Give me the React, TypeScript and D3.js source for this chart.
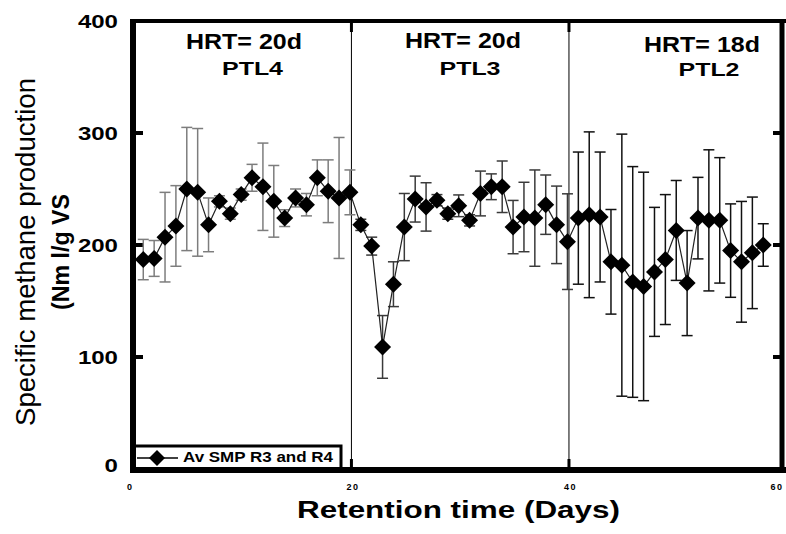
import React from 'react';
import * as d3 from 'd3';

// Retention time (days) of each measurement
const days = [
  1, 2, 3, 4, 5, 6, 7, 8, 9, 10, 11, 12, 13, 14, 15, 16, 17, 18, 19, 20,
  21, 22, 23, 24, 25, 26, 27, 28, 29, 30, 31, 32, 33, 34, 35, 36, 37, 38, 39, 40,
  41, 42, 43, 44, 45, 46, 47, 48, 49, 50, 51, 52, 53, 54, 55, 56, 57, 58,
];
// Av SMP R3 and R4 (Nm l/g VS)
const smp = [
  187, 188, 207, 217, 250, 247, 218, 239, 228, 245, 260, 252, 239, 224, 242, 236, 260, 248, 242, 247,
  218, 199, 109, 165, 216, 241, 234, 240, 228, 235, 222, 246, 252, 252, 216, 225, 224, 236, 218, 203,
  224, 227, 225, 185, 182, 167, 163, 176, 187, 213, 166, 224, 222, 222, 195, 185, 193, 200,
];
const smpErr = [
  18, 16, 40, 36, 55, 57, 24, 5, 5, 5, 12, 39, 32, 7.5, 8, 10, 16, 28, 54, 20,
  5, 8, 28, 20, 30, 20.5, 21.6, 5, 5, 9.7, 5, 20, 11.5, 23, 23.8, 31, 43, 26.5, 34.6, 42.7,
  59, 74, 58, 46.7, 117, 103, 102, 57.6, 58, 44.6, 46.9, 36.4, 63, 56, 41.7, 53.9, 49.8, 19,
];
const xTicks = [0, 20, 40, 60];
const yTicks = [0, 100, 200, 300, 400];
const phaseBounds = [20, 40];
const hrtLabels = ['HRT= 20d', 'HRT= 20d', 'HRT= 18d'];
const ptlLabels = ['PTL4', 'PTL3', 'PTL2'];
const legendLabel = 'Av SMP R3 and R4';
const xTitle = 'Retention time (Days)';
const yTitle1 = 'Specific methane production';
const yTitle2 = '(Nm l/g VS';

const W = 786;
const H = 534;
const FONT = '"Liberation Sans", Arial, Helvetica, sans-serif';

export default function App() {
  const x = d3.scaleLinear().domain([0, 60]).range([132.4, 785]);
  const y = d3.scaleLinear().domain([0, 400]).range([469, 21]);

  const line = d3
    .line<number>()
    .x((_, i) => x(days[i]))
    .y((v) => y(v));

  const barColor = (d: number) => (d <= 20 ? '#7d7d7d' : d <= 40 ? '#3a3a3a' : '#111');

  const leftX = 133;
  const rightX = 782;
  const topY = 21;
  const botY = 470;

  // label layout (pixels)
  const hrtPos = [
    { hx: 244, hy: 49, px: 252.5, py: 75 },
    { hx: 463, hy: 48, px: 470, py: 75 },
    { hx: 702, hy: 52, px: 709, py: 76 },
  ];

  const xLabelX = (t: number) => (t === 0 ? x(t) - 3 : t === 60 ? 777 : x(t) + 3);

  return (
    <svg
      width={W}
      height={H}
      viewBox={`0 0 ${W} ${H}`}
      style={{ position: 'absolute', left: 0, top: 0, background: '#fff' }}
    >
      <rect x={0} y={0} width={W} height={H} fill="#fff" />

      {/* phase separators */}
      {phaseBounds.map((b) => (
        <g key={'pb' + b}>
          <line x1={x(b) + 1.5} x2={x(b) + 1.5} y1={topY} y2={botY} stroke="#000" strokeWidth={1} />
          <line x1={x(b) + 1.5} x2={x(b) + 1.5} y1={topY} y2={topY + 11} stroke="#000" strokeWidth={3} />
          <line x1={x(b) + 1.5} x2={x(b) + 1.5} y1={botY - 11} y2={botY} stroke="#000" strokeWidth={3} />
        </g>
      ))}

      {/* y ticks inside frame */}
      {yTicks.slice(1, 4).map((t) => (
        <g key={'yt' + t}>
          <line x1={leftX} x2={leftX + 10} y1={y(t)} y2={y(t)} stroke="#000" strokeWidth={4} />
          <line x1={rightX - 9} x2={rightX} y1={y(t)} y2={y(t)} stroke="#000" strokeWidth={4} />
        </g>
      ))}

      {/* error bars */}
      {days.map((d, i) => {
        const cx = x(d);
        const y1 = y(smp[i] + smpErr[i]);
        const y2 = y(smp[i] - smpErr[i]);
        const c = barColor(d);
        return (
          <g key={'eb' + d} stroke={c} strokeWidth={1.5}>
            <line x1={cx} x2={cx} y1={y1} y2={y2} />
            <line x1={cx - 5.5} x2={cx + 5.5} y1={y1} y2={y1} />
            <line x1={cx - 5.5} x2={cx + 5.5} y1={y2} y2={y2} />
          </g>
        );
      })}

      {/* connecting line */}
      <path d={line(smp) || ''} fill="none" stroke="#222" strokeWidth={1.2} />

      {/* diamonds */}
      {days.map((d, i) => {
        const cx = x(d);
        const cy = y(smp[i]);
        const r = 8.5;
        return (
          <path
            key={'pt' + d}
            d={`M${cx},${cy - r}L${cx + r},${cy}L${cx},${cy + r}L${cx - r},${cy}Z`}
            fill="#000"
          />
        );
      })}

      {/* legend */}
      <rect x={leftX} y={446} width={208} height={botY - 446} fill="#fff" stroke="#000" strokeWidth={3} />
      <line x1={137} x2={178} y1={458} y2={458} stroke="#000" strokeWidth={1.5} />
      <path d="M157,450L165,458L157,466L149,458Z" fill="#000" />
      <text
        x={183}
        y={462}
        fontFamily={FONT}
        fontWeight="bold"
        fontSize={14}
        textLength={150}
        lengthAdjust="spacingAndGlyphs"
      >
        {legendLabel}
      </text>

      {/* frame */}
      <line x1={leftX} x2={leftX} y1={topY - 2} y2={botY + 3} stroke="#000" strokeWidth={6} />
      <line x1={leftX - 3} x2={W} y1={botY} y2={botY} stroke="#000" strokeWidth={6} />
      <line x1={leftX - 3} x2={W} y1={topY} y2={topY} stroke="#000" strokeWidth={4} />
      <line x1={rightX} x2={rightX} y1={topY - 2} y2={botY + 3} stroke="#000" strokeWidth={5} />

      {/* x tick labels */}
      {xTicks.map((t) => (
        <text
          key={'xl' + t}
          x={xLabelX(t)}
          y={490}
          textAnchor="middle"
          fontFamily={FONT}
          fontWeight="bold"
          fontSize={9}
          letterSpacing={t === 0 ? 0 : 1.5}
        >
          {t}
        </text>
      ))}

      {/* y tick labels */}
      {yTicks.map((t) => (
        <text
          key={'yl' + t}
          transform={`translate(118,${y(t) + (t === 0 ? 3 : 6.8)}) scale(1.3,1)`}
          textAnchor="end"
          fontFamily={FONT}
          fontWeight="bold"
          fontSize={18.5}
        >
          {t}
        </text>
      ))}

      {/* phase labels */}
      {hrtLabels.map((h, i) => (
        <g key={'hl' + i} fontFamily={FONT} fontWeight="bold">
          <text
            x={hrtPos[i].hx}
            y={hrtPos[i].hy}
            textAnchor="middle"
            fontSize={22}
            textLength={116}
            lengthAdjust="spacingAndGlyphs"
          >
            {h}
          </text>
          <text
            x={hrtPos[i].px}
            y={hrtPos[i].py}
            textAnchor="middle"
            fontSize={18.5}
            textLength={61}
            lengthAdjust="spacingAndGlyphs"
          >
            {ptlLabels[i]}
          </text>
        </g>
      ))}

      {/* axis titles */}
      <text
        x={458.5}
        y={518}
        textAnchor="middle"
        fontFamily={FONT}
        fontWeight="bold"
        fontSize={23}
        textLength={323}
        lengthAdjust="spacingAndGlyphs"
      >
        {xTitle}
      </text>
      <text
        transform="translate(35,252) rotate(-90)"
        textAnchor="middle"
        fontFamily={FONT}
        fontSize={27.5}
        textLength={348}
        lengthAdjust="spacingAndGlyphs"
      >
        {yTitle1}
      </text>
      <text
        transform="translate(69,252) rotate(-90)"
        textAnchor="middle"
        fontFamily={FONT}
        fontWeight="bold"
        fontSize={23}
        textLength={116}
        lengthAdjust="spacingAndGlyphs"
      >
        {yTitle2}
      </text>
    </svg>
  );
}
